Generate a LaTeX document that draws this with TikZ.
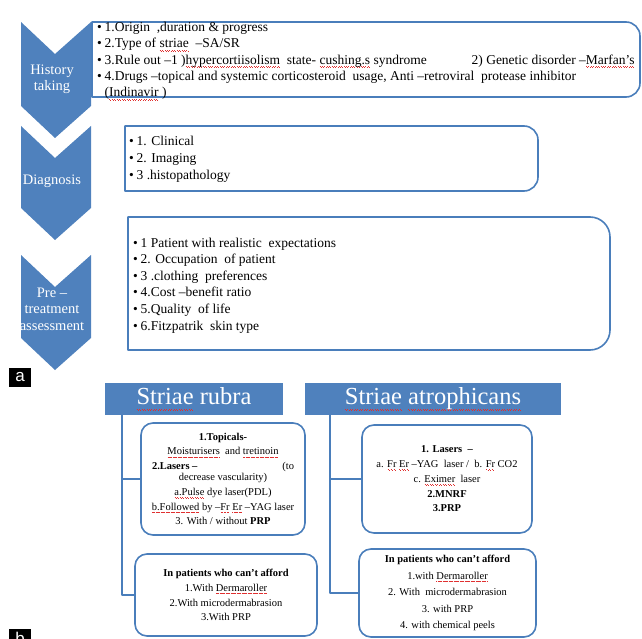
\documentclass[tikz,border=0pt]{standalone}
\usepackage{fontspec}
\setmainfont{Liberation Serif}
\newfontfamily\labelfont{Liberation Sans}
\definecolor{sblue}{HTML}{4A7EBB}
\definecolor{chev}{HTML}{4F81BD}
\definecolor{sperrc}{HTML}{E03030}
\newcommand\sperr[1]{\setbox0=\hbox{#1}\rlap{\color{sperrc}\hbox to \wd0{\xleaders\hbox to 2.4pt{\rule[-0.2em]{0.8pt}{0.4pt}\hss\rule[-0.25em]{0.8pt}{0.4pt}\hss}\hfill}}#1}
\newcommand\bl{\makebox[7.5pt][l]{\textbullet}}
\tikzset{
  chevtext/.style={text=white, align=center, inner sep=0pt, font=\fontsize{14.5}{16.5}\selectfont},
  atext/.style={align=left, inner sep=0pt, font=\fontsize{13.5}{16.3}\selectfont},
  boxline/.style={draw=sblue, line width=1.6pt, fill=white},
  hdr/.style={fill=chev, text=white, inner sep=0pt, font=\fontsize{24.5}{28}\selectfont},
  bbox/.style={draw=sblue, line width=1.6pt, fill=white, rounded corners=12pt, align=center, inner sep=0pt, font=\fontsize{10.5}{14.8}\selectfont},
  conn/.style={draw=sblue, line width=1.6pt},
  lab/.style={fill=black, text=white, inner sep=0pt, minimum width=22pt, minimum height=19pt, font=\labelfont\fontsize{17}{17}\selectfont}
}
\newcommand\abox[5]{\draw[boxline] (#1,#2) -- ({#3-#5},#2) arc[start angle=-90,end angle=0,radius=#5] -- (#3,{#4-#5}) arc[start angle=0,end angle=90,radius=#5] -- (#1,#4) -- cycle;}
\begin{document}
\begin{tikzpicture}[x=1pt,y=-1pt,line join=round]
\path[use as bounding box] (0,0) rectangle (642,639);
\clip (0,0) rectangle (642,639);
% chevrons
\fill[chev] (21,22) -- (55,54) -- (91,22) -- (91,106) -- (55,138) -- (21,106) -- cycle;
\fill[chev] (21,126) -- (55,158) -- (91,126) -- (91,208) -- (55,240) -- (21,208) -- cycle;
\fill[chev] (21,255) -- (55,287) -- (91,255) -- (91,338) -- (55,370) -- (21,338) -- cycle;
\node[chevtext] (h) at (52,79.5) {History\\taking};
\node[chevtext] (d) at (52,181) {Diagnosis};
\node[chevtext] (p) at (52,309) {Pre –\\treatment\\assessment};
% section a boxes
\abox{92}{22}{640}{97}{14}
\abox{125}{126}{538}{191}{14}
\abox{128}{217}{610}{350}{20}
\node[atext, anchor=north west] (ht) at (97,22) {%
\bl 1.Origin\ \ ,duration \& progress\\
\bl 2.Type of \sperr{striae}\ \ –SA/SR\\
\bl\makebox[530pt][l]{3.Rule out –1 )\sperr{hypercortiisolism}\ \ state- \sperr{cushing.s}\ syndrome\hfill 2) Genetic disorder –\sperr{Marfan's}}\\
\bl 4.Drugs –topical and systemic corticosteroid\ \ usage, Anti –retroviral\ \ protease inhibitor\\
\hspace*{7.5pt}(\sperr{Indinavir}\ )};
\node[atext, anchor=north west, font=\fontsize{13.5}{17}\selectfont] (dt) at (129,135.5) {%
\bl 1. Clinical\\
\bl 2. Imaging\\
\bl 3 .histopathology};
\node[atext, anchor=north west, font=\fontsize{13.5}{16.6}\selectfont] (pt) at (133,237.5) {%
\bl 1 Patient with realistic\ \ expectations\\
\bl 2. Occupation\ \ of patient\\
\bl 3 .clothing\ \ preferences\\
\bl 4.Cost –benefit\ ratio\\
\bl 5.Quality\ \ of life\\
\bl 6.Fitzpatrik\ \ skin type};
\node[lab] (la) at (20,377) {a};
% section b
\node[hdr, minimum width=178pt, minimum height=32pt] (rubra) at (194,399) {\sperr{Striae} rubra};
\node[hdr, minimum width=256pt, minimum height=32pt] (atro) at (433,399) {\sperr{Striae} \sperr{atrophicans}};
\node[bbox, minimum width=164pt, minimum height=112pt] (r1) at (223,479) {%
\textbf{1.Topicals-}\\
\sperr{Moisturisers}\ \ and \sperr{tretinoin}\\
\makebox[142pt]{\textbf{2.Lasers –}\hfill(to}\\[-4pt]
decrease vascularity)\\
\sperr{a.Pulse} dye laser(PDL)\\
\sperr{b.Followed} by –\sperr{Fr} \sperr{Er} –YAG laser\\
3. With\ /\ without \textbf{PRP}};
\node[bbox, minimum width=182pt, minimum height=82pt] (r2) at (226,595) {%
\textbf{In patients who can't afford}\\
1.With \sperr{Dermaroller}\\
2.With microdermabrasion\\
3.With PRP};
\node[bbox, minimum width=170pt, minimum height=108pt] (a1) at (447,479) {%
\textbf{1. Lasers\ \ –}\\
a. \sperr{Fr} \sperr{Er} –YAG\ \ laser\ /\ \ b. \sperr{Fr} CO2\\
c. \sperr{Eximer}\ \ laser\\
\textbf{2.MNRF}\\
\textbf{3.PRP}};
\node[bbox, minimum width=177pt, minimum height=88pt, font=\fontsize{10.5}{16.5}\selectfont] (a2) at (447.5,593) {%
\textbf{In patients who can't afford}\\
1.with \sperr{Dermaroller}\\
2. With\ \ microdermabrasion\\
3. with PRP\\
4. with chemical peels};
\draw[conn] ([xshift=17pt]rubra.south west) |- (r1.west);
\draw[conn] ([xshift=17pt]rubra.south west) |- (r2.west);
\draw[conn] ([xshift=25pt]atro.south west) |- (a1.west);
\draw[conn] ([xshift=25pt]atro.south west) |- (a2.west);
\node[lab] (lb) at (20,638) {b};
\end{tikzpicture}
\end{document}
